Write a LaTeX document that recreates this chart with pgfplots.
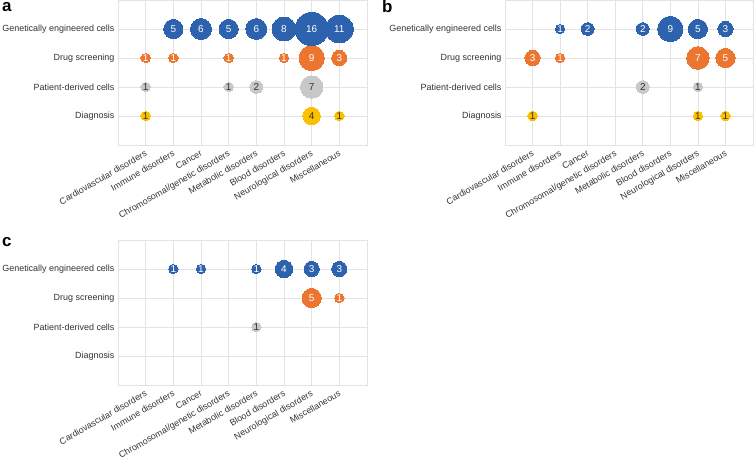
\documentclass[border=0pt]{standalone}
\usepackage{pgfplots}
\pgfplotsset{compat=1.18}
\usepackage{fontspec}
\setmainfont{Liberation Sans}
\definecolor{cblue}{HTML}{2D62AE}
\definecolor{corange}{HTML}{EC7530}
\definecolor{cgray}{HTML}{C8C8C8}
\definecolor{cyellow}{HTML}{FBC000}
\definecolor{cgrid}{HTML}{E3E3E3}
\definecolor{ctext}{HTML}{333333}
\pgfplotsset{
 bub/.style={width=249bp,height=145bp,scale only axis,
  xmin=-1,xmax=8,ymin=0,ymax=5,
  xtick={0,...,7},
  xticklabels={Cardiovascular disorders, Immune disorders, Cancer, Chromosomal/genetic disorders, Metabolic disorders, Blood disorders, Neurological disorders, Miscellaneous},
  ytick={1,2,3,4},
  yticklabels={Diagnosis, Patient-derived cells, Drug screening, Genetically engineered cells},
  grid=major, major grid style={cgrid, line width=0.7bp},
  axis line style={cgrid}, major tick length=0,
  tick label style={font=\fontsize{9}{10}\selectfont, text=ctext},
  xticklabel style={rotate=30, anchor=north east},
  anchor=south west, clip=false},
 bp/.style 2 args={scatter, only marks, mark=*, point meta=explicit,
  visualization depends on={\thisrow{v} \as \bval},
  scatter/@pre marker code/.code={%
    \pgfmathsetmacro\bsize{0.7+4*sqrt(\bval)}%
    \scope[mark size=\bsize pt, color=#1, line width=0pt]},
  scatter/@post marker code/.code={%
    \pgfmathtruncatemacro\bint{\bval}%
    \node[font=\fontsize{10}{11}\selectfont, text=#2, inner sep=0pt, anchor=center] at (0pt,0pt) {\bint};%
    \endscope}},
}
\begin{document}
\begin{tikzpicture}
\path[use as bounding box] (0,0) rectangle (755bp,462bp);
% panel a
\begin{axis}[bub, at={(118bp,317bp)}]
\addplot[bp={cyellow}{ctext}] table[meta=v,row sep=\\]{x y v\\ 0 1 1\\ 6 1 4\\ 7 1 1\\};
\addplot[bp={cgray}{ctext}] table[meta=v,row sep=\\]{x y v\\ 0 2 1\\ 3 2 1\\ 4 2 2\\ 6 2 7\\};
\addplot[bp={corange}{white}] table[meta=v,row sep=\\]{x y v\\ 0 3 1\\ 1 3 1\\ 3 3 1\\ 5 3 1\\ 6 3 9\\ 7 3 3\\};
\addplot[bp={cblue}{white}] table[meta=v,row sep=\\]{x y v\\ 1 4 5\\ 2 4 6\\ 3 4 5\\ 4 4 6\\ 5 4 8\\ 6 4 16\\ 7 4 11\\};
\end{axis}
% panel b
\begin{axis}[bub, at={(505bp,317bp)}, width=248bp]
\addplot[bp={cyellow}{ctext}] table[meta=v,row sep=\\]{x y v\\ 0 1 1\\ 6 1 1\\ 7 1 1\\};
\addplot[bp={cgray}{ctext}] table[meta=v,row sep=\\]{x y v\\ 4 2 2\\ 6 2 1\\};
\addplot[bp={corange}{white}] table[meta=v,row sep=\\]{x y v\\ 0 3 3\\ 1 3 1\\ 6 3 7\\ 7 3 5\\};
\addplot[bp={cblue}{white}] table[meta=v,row sep=\\]{x y v\\ 1 4 1\\ 2 4 2\\ 4 4 2\\ 5 4 9\\ 6 4 5\\ 7 4 3\\};
\end{axis}
% panel c
\begin{axis}[bub, at={(118bp,77bp)}]
\addplot[bp={cgray}{ctext}] table[meta=v,row sep=\\]{x y v\\ 4 2 1\\};
\addplot[bp={corange}{white}] table[meta=v,row sep=\\]{x y v\\ 6 3 5\\ 7 3 1\\};
\addplot[bp={cblue}{white}] table[meta=v,row sep=\\]{x y v\\ 1 4 1\\ 2 4 1\\ 4 4 1\\ 5 4 4\\ 6 4 3\\ 7 4 3\\};
\end{axis}
\node[anchor=base west, inner sep=0pt, font=\fontsize{17}{17}\selectfont\bfseries] at (2bp,450bp) {a};
\node[anchor=base west, inner sep=0pt, font=\fontsize{17}{17}\selectfont\bfseries] at (382bp,449bp) {b};
\node[anchor=base west, inner sep=0pt, font=\fontsize{17}{17}\selectfont\bfseries] at (2bp,215bp) {c};
\end{tikzpicture}
\end{document}
